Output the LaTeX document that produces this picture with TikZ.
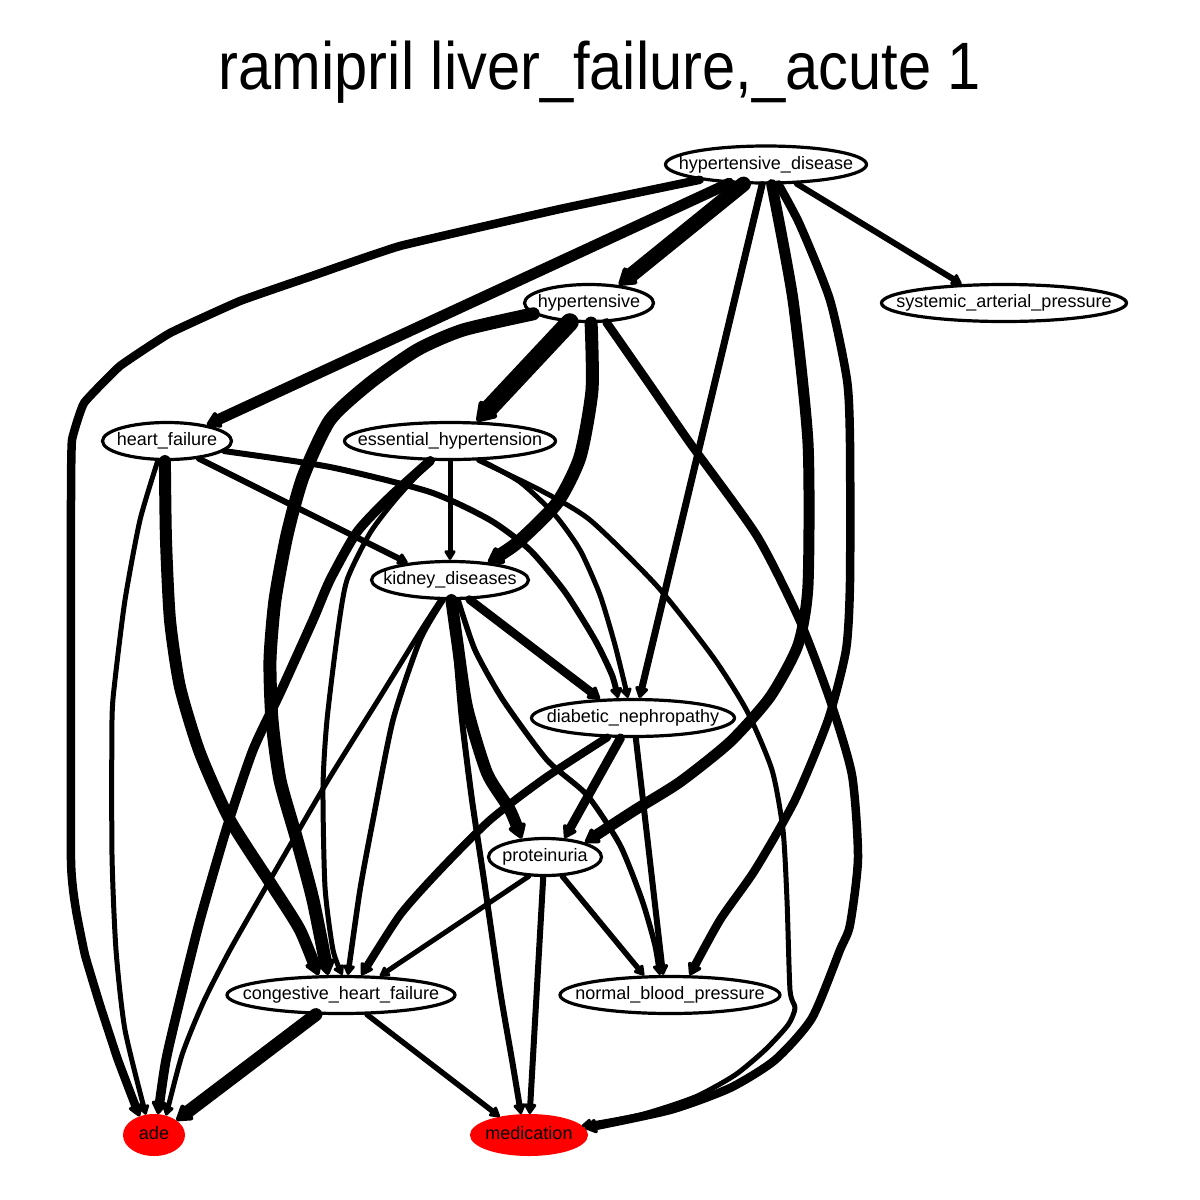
\documentclass[tikz,border=0pt]{standalone}
\usepackage{fontspec}
\setmainfont{Liberation Sans}
\newfontfamily\titlefont{Liberation Sans}[FakeStretch=0.89]
\usetikzlibrary{arrows.meta,shapes.geometric}
\tikzset{
  nd/.style={ellipse, draw=black, line width=3.2pt, inner sep=0pt, minimum height=37pt,
    text height=13.2pt, text depth=3.8pt, font=\fontsize{18}{20}\selectfont},
  rd/.style={ellipse, fill=red, draw=red, line width=3pt, inner sep=0pt, minimum height=39pt,
    text height=13.2pt, text depth=3.8pt, font=\fontsize{18}{20}\selectfont},
  ed/.style={line width=#1, line cap=round, line join=round,
    -{Triangle[length=7pt 0.8, width=7pt 1.1, round]}},
  sm/.style={smooth, tension=0.4}
}
\begin{document}
\begin{tikzpicture}[x=1pt, y=-1pt]
\useasboundingbox (0,0) rectangle (1200,1200);
\node[font=\titlefont\fontsize{67}{70}\selectfont, anchor=base] (title) at (600,89) {ramipril liver\_failure,\_acute 1};

\node[nd, minimum width=201pt] (hd) at (766,164.5) {\makebox[0pt]{hypertensive\_disease}};
\node[nd, minimum width=245pt] (sap) at (1004,303) {\makebox[0pt]{systemic\_arterial\_pressure}};
\node[nd, minimum width=129pt] (hyp) at (589,303) {\makebox[0pt]{hypertensive}};
\node[nd, minimum width=129pt] (hf) at (167,441) {\makebox[0pt]{heart\_failure}};
\node[nd, minimum width=211pt] (ess) at (450,441) {\makebox[0pt]{essential\_hypertension}};
\node[nd, minimum width=157pt] (kd) at (450,580) {\makebox[0pt]{kidney\_diseases}};
\node[nd, minimum width=203pt] (dn) at (633,718) {\makebox[0pt]{diabetic\_nephropathy}};
\node[nd, minimum width=113pt] (pr) at (545,857) {\makebox[0pt]{proteinuria}};
\node[nd, minimum width=228pt] (chf) at (341,995) {\makebox[0pt]{congestive\_heart\_failure}};
\node[nd, minimum width=220pt] (nbp) at (670,995) {\makebox[0pt]{normal\_blood\_pressure}};
\node[rd, minimum width=59pt] (ade) at (154,1135) {\makebox[0pt]{ade}};
\node[rd, minimum width=115pt] (med) at (529,1135) {\makebox[0pt]{medication}};

% from hypertensive_disease
\draw[ed=6pt] (hd.-32) -- (sap.156);
\draw[ed=15pt] (hd.-139) -- (hyp.31);
\draw[ed=11pt] (hd.-153) -- (hf.22);
\draw[ed=8.5pt] plot[smooth, tension=0.2] coordinates {(hd.-167) (560,209) (400,246) (312,276) (240,301) (170,333) (120,366) (84,403) (72,440) (71,500) (71,860) (76,910) (85,955) (100,1005) (118,1060) (ade.128)};
\draw[ed=7pt] (hd.-101) -- (dn.72);
\draw[ed=11pt] plot[sm] coordinates {(hd.-74) (793,300) (808,443) (808,585) (798,645) (770,697) (730,742) (680,782) (635,810) (pr.20)};
\draw[ed=8.5pt] plot[sm] coordinates {(hd.-58) (800,225) (830,300) (847,380) (850,443) (850,582) (846,650) (828,720) (795,800) (755,870) (720,920) (nbp.45)};

% from hypertensive
\draw[ed=18pt] (hyp.-135) -- (ess.36);
\draw[ed=13pt] plot[sm] coordinates {(hyp.-84) (592,390) (580,457) (557,503) (517,543) (kd.25)};
\draw[ed=13pt] plot[sm] coordinates {(hyp.-169) (463,330) (417,350) (370,383) (330,420) (303,477) (287,535) (275,600) (270,660) (272,720) (280,780) (297,840) (313,900) (chf.123)};
\draw[ed=8.5pt] plot[sm] coordinates {(hyp.-48) (650,385) (690,443) (757,536) (800,621) (830,700) (852,775) (858,858) (850,925) (840,950) (812,1018) (775,1060) (730,1088) (670,1110) (med.7)};

% from heart_failure
\draw[ed=5pt] plot[sm] coordinates {(hf.-115) (140,520) (125,600) (115,680) (112,720) (112,855) (116,950) (125,1030) (ade.112)};
\draw[ed=12pt] plot[sm] coordinates {(hf.-96) (166,540) (170,620) (180,687) (200,753) (230,820) (273,887) (300,930) (chf.139)};
\draw[ed=6pt] (hf.-29) -- (kd.158);
\draw[ed=6pt] plot[sm] coordinates {(hf.-10) (330,467) (430,492) (490,520) (530,550) (565,592) (595,640) (612,675) (dn.127)};

% from essential_hypertension
\draw[ed=5pt] (ess.-90) -- (kd.90);
\draw[ed=5pt] plot[sm] coordinates {(ess.-32) (520,482) (555,515) (580,550) (600,595) (615,645) (dn.104)};
\draw[ed=9.5pt] plot[sm] coordinates {(ess.-135) (390,497) (357,532) (330,580) (313,620) (280,693) (253,750) (227,827) (200,920) (180,1000) (166,1060) (ade.79)};
\draw[ed=5pt] plot[sm] coordinates {(ess.-135) (395,500) (370,533) (347,580) (338,630) (327,720) (323,787) (325,887) (333,950) (chf.86)};
\draw[ed=5pt] plot[sm] coordinates {(ess.-34) (540,490) (590,520) (657,586) (713,657) (747,711) (772,770) (783,830) (787,900) (790,990) (795,1008) (788,1025) (765,1050) (735,1075) (695,1097) (640,1115) (med.10)};

% from kidney_diseases
\draw[ed=8.5pt] (kd.-45) -- (dn.150);
\draw[ed=12pt] plot[sm] coordinates {(kd.-86) (457,640) (467,707) (487,773) (510,810) (pr.142)};
\draw[ed=5.5pt] plot[sm] coordinates {(kd.-109) (420,640) (393,720) (373,820) (360,890) (chf.71)};
\draw[ed=5pt] plot[sm] coordinates {(kd.-115) (420,632) (380,697) (327,782) (270,880) (230,950) (203,1003) (182,1055) (ade.58)};
\draw[ed=6pt] plot[sm] coordinates {(kd.-84) (456,650) (462,720) (472,800) (484,880) (500,990) (512,1060) (med.111)};
\draw[ed=5.5pt] plot[sm] coordinates {(kd.-68) (475,650) (503,700) (547,760) (587,795) (620,845) (642,900) (655,945) (nbp.117)};

% from diabetic_nephropathy
\draw[ed=9pt] (dn.-122) -- (pr.44);
\draw[ed=8pt] plot[sm] coordinates {(dn.-143) (545,778) (490,820) (440,870) (400,915) (chf.44)};
\draw[ed=6pt] (dn.-82) -- (nbp.109);

% from proteinuria
\draw[ed=5pt] (pr.-130) -- (chf.26);
\draw[ed=5.5pt] (pr.-48) -- (nbp.143);
\draw[ed=6pt] (pr.-95) -- (med.88);

% from congestive_heart_failure
\draw[ed=13pt] (chf.-142) -- (ade.33);
\draw[ed=5.5pt] (chf.-37) -- (med.148);
\end{tikzpicture}
\end{document}
